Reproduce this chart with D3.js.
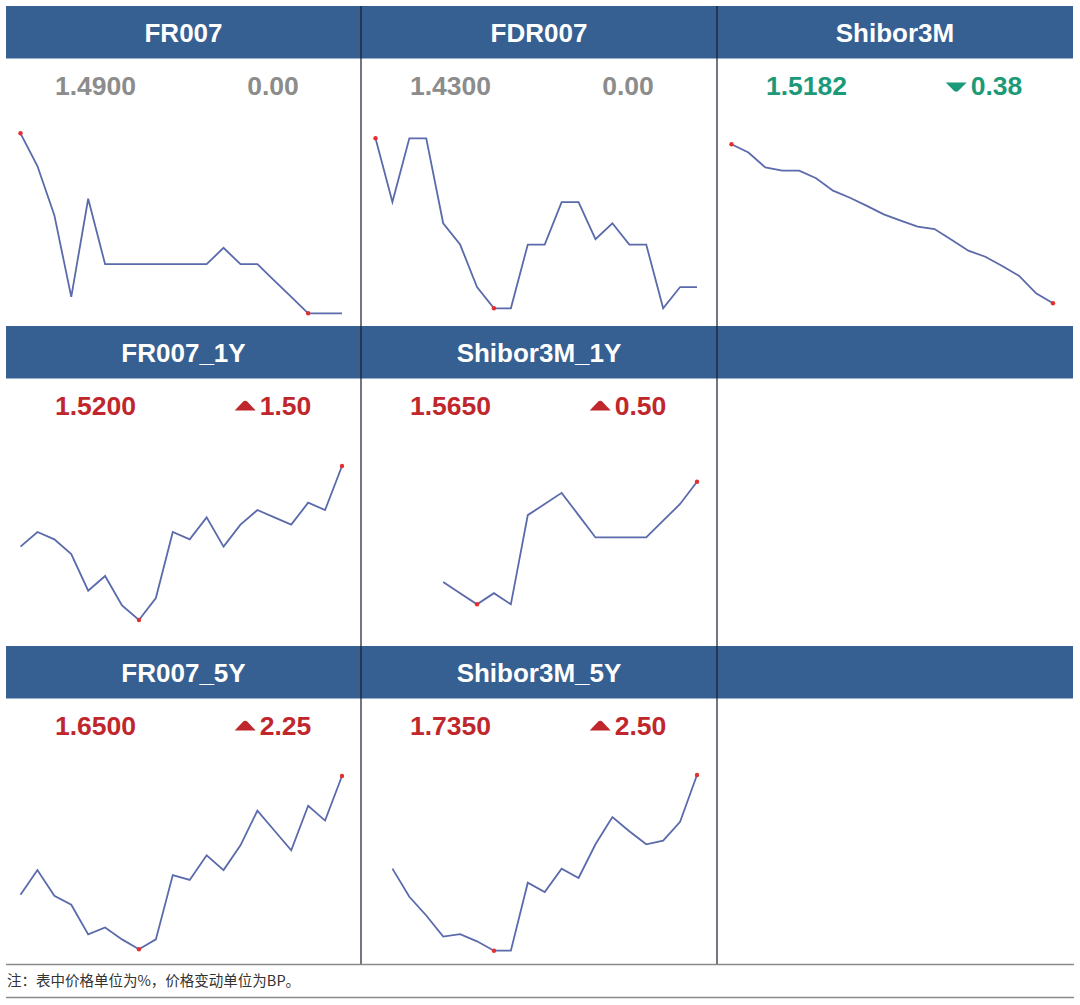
<!DOCTYPE html>
<html>
<head>
<meta charset="utf-8">
<script src="https://cdn.jsdelivr.net/npm/d3@7"></script>
<style>
  html, body { margin: 0; padding: 0; background: #fff; }
  svg { display: block; }
</style>
</head>
<body>
<svg id="chart" width="1080" height="1005"></svg>
<script>
// ---------- data ----------
const panelNames = ["FR007", "FDR007", "Shibor3M", "FR007_1Y", "Shibor3M_1Y", "", "FR007_5Y", "Shibor3M_5Y", ""];
const lastValues = ["1.4900", "1.4300", "1.5182", "1.5200", "1.5650", "", "1.6500", "1.7350", ""];
const changeValues = ["0.00", "0.00", "0.38", "1.50", "0.50", "", "2.25", "2.50", ""];
const changeDirection = [0, 0, -1, 1, 1, 0, 1, 1, 0];

const seriesFR007 = [1.60, 1.58, 1.55, 1.50, 1.56, 1.52, 1.52, 1.52, 1.52, 1.52, 1.52, 1.52, 1.53, 1.52, 1.52, 1.51, 1.50, 1.49, 1.49, 1.49];
const seriesFDR007 = [1.50, 1.47, 1.50, 1.50, 1.46, 1.45, 1.43, 1.42, 1.42, 1.45, 1.45, 1.47, 1.47, 1.4525, 1.46, 1.45, 1.45, 1.42, 1.43, 1.43];
const seriesShibor3M = [1.5786, 1.5755, 1.5698, 1.5686, 1.5686, 1.5657, 1.5610, 1.5583, 1.5552, 1.5520, 1.5496, 1.5473, 1.5464, 1.5423, 1.5382, 1.5359, 1.5324, 1.5286, 1.5220, 1.5182];
const seriesFR007_1Y = [1.4925, 1.4975, 1.495, 1.49, 1.4775, 1.4825, 1.4725, 1.4675, 1.475, 1.4975, 1.495, 1.5025, 1.4925, 1.50, 1.505, 1.5025, 1.50, 1.5075, 1.505, 1.52];
const seriesShibor3M_1Y = [null, null, null, null, 1.5425, 1.54, 1.5375, 1.54, 1.5375, 1.5575, 1.56, 1.5625, 1.5575, 1.5525, 1.5525, 1.5525, 1.5525, 1.55625, 1.56, 1.565];
const seriesFR007_5Y = [1.59, 1.6025, 1.5895, 1.585, 1.57, 1.5735, 1.5675, 1.5625, 1.5675, 1.60, 1.5975, 1.61, 1.6025, 1.615, 1.6325, 1.6225, 1.6125, 1.635, 1.6275, 1.65];
const seriesShibor3M_5Y = [null, 1.685, 1.67, 1.66, 1.6487, 1.65, 1.6462, 1.6412, 1.6412, 1.6775, 1.6725, 1.685, 1.68, 1.698, 1.7125, 1.705, 1.698, 1.70, 1.71, 1.735];

const panelSeries = [seriesFR007, seriesFDR007, seriesShibor3M, seriesFR007_1Y, seriesShibor3M_1Y, null, seriesFR007_5Y, seriesShibor3M_5Y, null];
const footnote = "注：表中价格单位为%，价格变动单位为BP。";

// ---------- layout ----------
const colX = [6, 361, 717];
const colW = [355, 356, 356];
const rowY = [6, 326, 646];
const headerH = 52.5;
// vertical extent of each sparkline (top, bottom) relative to row top
const sparkY = [[127.3, 307.3], [132.3, 302.3], [138.3, 297.3],
                [140, 294], [155.7, 278.3], null,
                [130, 303.3], [129, 304.7], null];

const C = {
  header: "#366092",
  gray: "#8c8c8c",
  red: "#c0272d",
  green: "#1c9a78",
  line: "#5a6aab",
  dot: "#e3302f",
  sep: "#1a1a2a",
  rule: "#8a8a8a"
};
const FONT = "'Liberation Sans', Arial, Helvetica, sans-serif";

const svg = d3.select("#chart");

// headers
panelNames.forEach((name, i) => {
  const c = i % 3, r = Math.floor(i / 3);
  const g = svg.append("g").attr("transform", `translate(${colX[c]},${rowY[r]})`);
  g.append("rect").attr("x", 0).attr("y", 0).attr("width", colW[c]).attr("height", headerH).attr("fill", C.header);
  if (name) {
    g.append("text").attr("x", colW[c] / 2).attr("y", 36)
      .attr("text-anchor", "middle").attr("fill", "#fff")
      .attr("font-family", FONT).attr("font-weight", "bold").attr("font-size", 26)
      .text(name);
  }
});

// values, changes, sparklines
panelNames.forEach((name, i) => {
  if (!name) return;
  const c = i % 3, r = Math.floor(i / 3);
  const g = svg.append("g").attr("transform", `translate(${colX[c]},${rowY[r]})`);
  const dir = changeDirection[i];
  const color = dir > 0 ? C.red : dir < 0 ? C.green : C.gray;

  g.append("text").attr("x", 89.5).attr("y", 89)
    .attr("text-anchor", "middle").attr("fill", color)
    .attr("font-family", FONT).attr("font-weight", "bold").attr("font-size", 26.5)
    .text(lastValues[i]);

  const cg = g.append("g");
  const t = cg.append("text").attr("y", 89).attr("fill", color)
    .attr("font-family", FONT).attr("font-weight", "bold").attr("font-size", 26.5)
    .text(changeValues[i]);
  const tw = t.node().getComputedTextLength();
  const triW = 21, gap = 4;
  const total = dir !== 0 ? triW + gap + tw : tw;
  const startX = 267 - total / 2;
  if (dir !== 0) {
    const tp = dir > 0
      ? `M${startX},84.5 L${startX + triW / 2 - 2},75.5 Q${startX + triW / 2},74 ${startX + triW / 2 + 2},75.5 L${startX + triW},84.5 Z`
      : `M${startX},76.5 L${startX + triW},76.5 L${startX + triW / 2 + 2},85 Q${startX + triW / 2},86.5 ${startX + triW / 2 - 2},85 Z`;
    cg.append("path").attr("d", tp).attr("fill", color);
    t.attr("x", startX + triW + gap);
  } else {
    t.attr("x", startX);
  }

  const data = panelSeries[i];
  const x = d3.scaleLinear().domain([0, data.length - 1]).range([14.5, 336]);
  const valid = data.filter(v => v != null);
  const y = d3.scaleLinear().domain(d3.extent(valid)).range([sparkY[i][1], sparkY[i][0]]);
  const line = d3.line().defined(d => d != null).x((d, k) => x(k)).y(d => y(d));
  g.append("path").datum(data).attr("d", line)
    .attr("fill", "none").attr("stroke", C.line).attr("stroke-width", 1.8)
    .attr("stroke-linejoin", "miter");

  const maxV = d3.max(valid), minV = d3.min(valid);
  const iMax = data.indexOf(maxV), iMin = data.indexOf(minV);
  [iMax, iMin].forEach(k => {
    g.append("circle").attr("cx", x(k)).attr("cy", y(data[k])).attr("r", 2.2).attr("fill", C.dot);
  });
});

// vertical separators
[361, 717].forEach(xx => {
  svg.append("line").attr("x1", xx).attr("x2", xx).attr("y1", 6).attr("y2", 964)
    .attr("stroke", C.sep).attr("stroke-width", 1.2);
});

// footnote rules and text
[964.5, 997.5].forEach(yy => {
  svg.append("line").attr("x1", 6).attr("x2", 1074).attr("y1", yy).attr("y2", yy)
    .attr("stroke", C.rule).attr("stroke-width", 1.5);
});
svg.append("text").attr("x", 7).attr("y", 986)
  .attr("fill", "#333").attr("font-family", "'Noto Sans CJK SC', 'Noto Sans', sans-serif")
  .attr("font-size", 14.5).text(footnote);
</script>
</body>
</html>
